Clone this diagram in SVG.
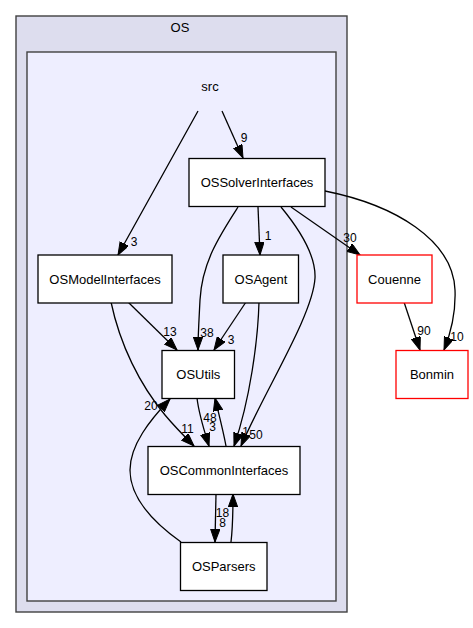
<svg xmlns="http://www.w3.org/2000/svg" width="473" height="628" viewBox="0 0 473 628">
<style>
text{font-family:"Liberation Sans",Arial,sans-serif;font-size:13px;fill:#000;text-anchor:middle}
.el{font-size:12px}
.node rect{fill:#fff;stroke:#000;stroke-width:1.3}
.node.ext rect{stroke:#ff0000}
.edges path{fill:none;stroke:#000;stroke-width:1.3;marker-end:url(#ah)}
</style>
<defs>
<marker id="ah" markerUnits="userSpaceOnUse" markerWidth="14" markerHeight="10" refX="13" refY="4.7" orient="auto">
<path d="M0,0 L13,4.7 L0,9.4 z" fill="#000" stroke="#000" stroke-width="1"/>
</marker>
</defs>
<rect width="473" height="628" fill="#fff"/>
<g id="cluster_OS">
<rect x="16" y="16" width="331" height="596" fill="#ddddee" stroke="#404040" stroke-width="1.4"/>
<text x="180" y="31.5">OS</text>
</g>
<g id="cluster_src">
<rect x="27" y="52" width="309" height="549" fill="#eeeeff" stroke="#404040" stroke-width="1.4"/>
<text x="210" y="90.5">src</text>
</g>
<g class="edges" id="edges">
<path d="M222,111 L243,158"/>
<path d="M198,111 C180,144 140,215 118,255"/>
<path d="M258,207 L260,255"/>
<path d="M291,207 L360,255"/>
<path d="M325,191 C395,205 453,240 455,290 C456,315 450,335 444,350"/>
<path d="M238,207 C220,235 202,262 200,300 C199,320 198,335 198,350"/>
<path d="M281,207 C300,230 316,255 315,278 C313,315 265,390 241,446"/>
<path d="M128,302 L177,350"/>
<path d="M111,302 C120,345 140,385 165,415 C175,427 185,437 194,446"/>
<path d="M246,302 L214,350"/>
<path d="M259,302 C258,340 250,400 234,446"/>
<path d="M197,398 C199,415 204,430 209,446"/>
<path d="M226,446 C223,430 219,415 215,398"/>
<path d="M216,494 L215,542"/>
<path d="M231,542 C233,525 233,510 233,494"/>
<path d="M181,542 C150,520 130,495 130,470 C130,445 150,420 170,399"/>
<path d="M404,302 L420,350"/>
</g>
<g id="edge_labels">
<text class="el" x="244" y="141.5">9</text>
<text class="el" x="134" y="245.5">3</text>
<text class="el" x="268" y="239.5">1</text>
<text class="el" x="350" y="241.5">30</text>
<text class="el" x="457" y="340.5">10</text>
<text class="el" x="424" y="334.5">90</text>
<text class="el" x="170" y="335.5">13</text>
<text class="el" x="207" y="336.5">38</text>
<text class="el" x="231" y="344">3</text>
<text class="el" x="151" y="409.5">20</text>
<text class="el" x="187.5" y="432.5">11</text>
<text class="el" x="210" y="421.5">48</text>
<text class="el" x="212.5" y="430.5">3</text>
<text class="el" x="245.5" y="436">1</text>
<text class="el" x="256" y="438.5">50</text>
<text class="el" x="222.5" y="516.5">18</text>
<text class="el" x="222.5" y="527">8</text>
</g>
<g class="node" id="OSSolverInterfaces">
<rect x="189" y="158.5" width="136" height="48"/>
<text x="257" y="187">OSSolverInterfaces</text>
</g>
<g class="node" id="OSModelInterfaces">
<rect x="38" y="255" width="134" height="48"/>
<text x="105" y="283.5">OSModelInterfaces</text>
</g>
<g class="node" id="OSAgent">
<rect x="223" y="255" width="75.5" height="48"/>
<text x="261" y="283.5">OSAgent</text>
</g>
<g class="node ext" id="Couenne">
<rect x="357" y="255" width="75" height="48"/>
<text x="394.5" y="283.5">Couenne</text>
</g>
<g class="node" id="OSUtils">
<rect x="162" y="350.5" width="72.5" height="48"/>
<text x="198.3" y="379">OSUtils</text>
</g>
<g class="node ext" id="Bonmin">
<rect x="396" y="350.5" width="72" height="48"/>
<text x="432" y="379">Bonmin</text>
</g>
<g class="node" id="OSCommonInterfaces">
<rect x="148" y="446.5" width="152" height="48"/>
<text x="224" y="475">OSCommonInterfaces</text>
</g>
<g class="node" id="OSParsers">
<rect x="180.5" y="542.5" width="86.5" height="48"/>
<text x="223.7" y="571">OSParsers</text>
</g>
</svg>
